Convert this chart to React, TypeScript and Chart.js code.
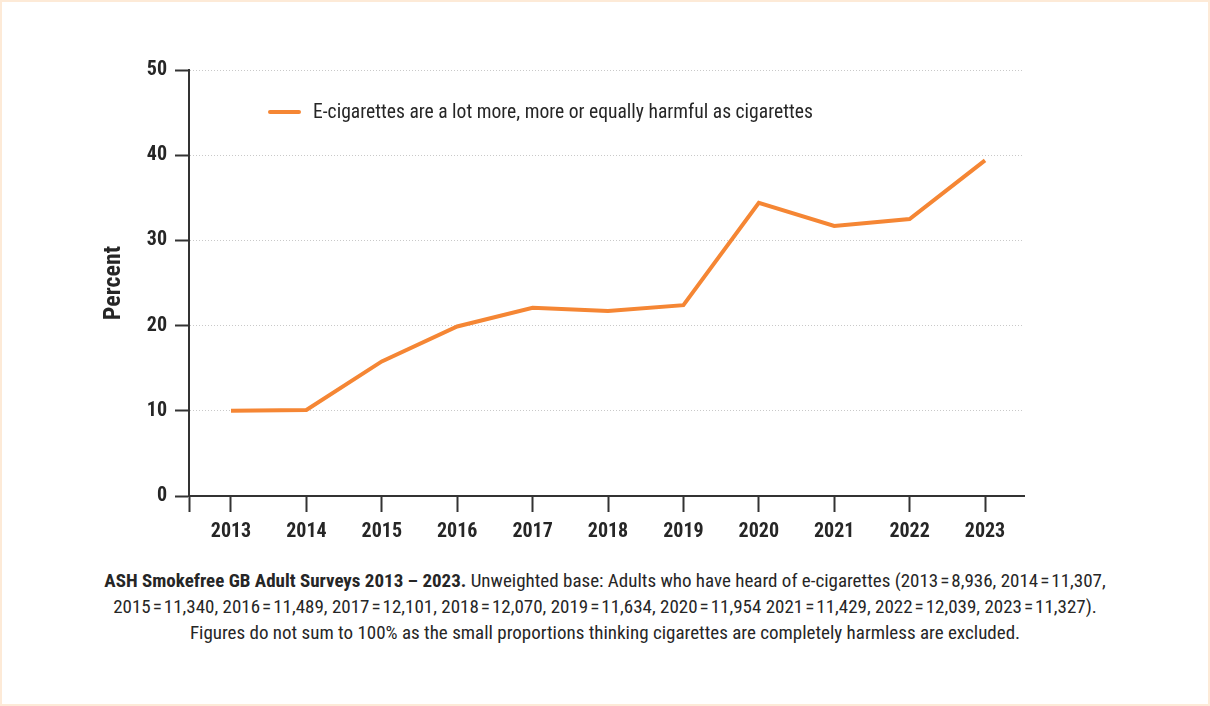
import React, { useEffect, useRef } from "react";
import { Chart, registerables } from "chart.js";

Chart.register(...registerables);

const years: number[] = [2013, 2014, 2015, 2016, 2017, 2018, 2019, 2020, 2021, 2022, 2023];
const harmfulPercent: number[] = [10.0, 10.1, 15.8, 19.9, 22.1, 21.7, 22.4, 34.4, 31.7, 32.5, 39.4];
const seriesLabel = "E-cigarettes are a lot more, more or equally harmful as cigarettes";
const yTickValues: number[] = [0, 10, 20, 30, 40, 50];
const yAxisTitle = "Percent";

const FONT = "Roboto, 'DejaVu Sans Condensed', sans-serif";
const ORANGE = "#F58634";
const DARK = "#262626";
const HS = "\u200A=\u200A";

const legendPlugin = {
  id: "insideLegend",
  afterDraw(chart: any) {
    const { ctx, chartArea } = chart;
    const ds = chart.data.datasets[0];
    const x0 = chartArea.left + 81;
    const y0 = chartArea.top + 42;
    ctx.save();
    ctx.strokeStyle = ds.borderColor;
    ctx.lineWidth = 4;
    ctx.lineCap = "round";
    ctx.beginPath();
    ctx.moveTo(x0, y0);
    ctx.lineTo(x0 + 29, y0);
    ctx.stroke();
    ctx.fillStyle = DARK;
    ctx.font = `condensed 19.6px ${FONT}`;
    try {
      (ctx as any).fontStretch = "condensed";
    } catch (e) {}
    ctx.textBaseline = "middle";
    ctx.textAlign = "left";
    ctx.fillText(ds.label, x0 + 43, y0 + 1);
    ctx.restore();
  },
};

export default function App() {
  const canvasRef = useRef<HTMLCanvasElement | null>(null);

  useEffect(() => {
    document.body.style.margin = "0";
    const canvas = canvasRef.current;
    if (!canvas) return;
    const xMin = years[0] - 0.557;
    const xMax = years[years.length - 1] + 0.517;
    const chart = new Chart(canvas, {
      type: "line",
      data: {
        datasets: [
          {
            label: seriesLabel,
            data: years.map((y, i) => ({ x: y, y: harmfulPercent[i] })),
            borderColor: ORANGE,
            backgroundColor: ORANGE,
            borderWidth: 4,
            pointRadius: 0,
            tension: 0,
            fill: false,
          },
        ],
      },
      options: {
        animation: false,
        responsive: false,
        maintainAspectRatio: false,
        layout: { padding: { left: 0, right: 186, top: 70, bottom: 0 } },
        plugins: {
          legend: { display: false },
          tooltip: { enabled: false },
        },
        scales: {
          x: {
            type: "linear",
            min: xMin,
            max: xMax,
            afterBuildTicks: (scale: any) => {
              scale.ticks = [{ value: xMin }, ...years.map((v) => ({ value: v }))];
            },
            afterFit: (scale: any) => {
              scale.height = 64;
            },
            grid: {
              drawOnChartArea: false,
              drawTicks: true,
              tickLength: 16,
              tickColor: "#333",
              tickWidth: 2,
            },
            border: { display: true, color: "#333", width: 2 },
            ticks: {
              autoSkip: false,
              maxRotation: 0,
              padding: 8,
              color: DARK,
              font: { family: FONT, size: 20, weight: "bold condensed" as any },
              callback: (v: any) => (years.includes(Number(v)) ? String(v) : ""),
            },
          },
          y: {
            min: 0,
            max: 50,
            afterBuildTicks: (scale: any) => {
              scale.ticks = yTickValues.map((v) => ({ value: v }));
            },
            afterFit: (scale: any) => {
              scale.width = 189;
            },
            grid: {
              drawOnChartArea: true,
              color: "#c9c9c9",
              lineWidth: 1,
              tickLength: 14,
              tickColor: "#333",
              tickWidth: 2,
            },
            border: { display: true, color: "#333", width: 2, dash: [1, 2] },
            ticks: {
              padding: 8,
              color: DARK,
              font: { family: FONT, size: 20, weight: "bold condensed" as any },
            },
            title: {
              display: true,
              text: yAxisTitle,
              color: DARK,
              font: { family: FONT, size: 24, weight: "bold condensed" as any },
              padding: { top: 100, bottom: 0 },
            },
          },
        },
      },
      plugins: [legendPlugin],
    });
    return () => chart.destroy();
  }, []);

  return (
    <div
      style={{
        position: "absolute",
        left: 0,
        top: 0,
        width: 1210,
        height: 706,
        boxSizing: "border-box",
        border: "2px solid #FDEAD7",
        background: "#fff",
        overflow: "hidden",
      }}
    >
      <canvas
        ref={canvasRef}
        width={1210}
        height={560}
        style={{ position: "absolute", left: -2, top: -2, width: 1210, height: 560 }}
      />
      <div
        style={{
          position: "absolute",
          left: -2,
          top: 566,
          width: 1210,
          textAlign: "center",
          fontFamily: FONT,
          fontStretch: "condensed",
          fontSize: 19,
          lineHeight: "26px",
          color: DARK,
        }}
      >
        <div>
          <b>ASH Smokefree GB Adult Surveys 2013 – 2023.</b> Unweighted base: Adults who have heard of
          e-cigarettes (2013{HS}8,936, 2014{HS}11,307,
        </div>
        <div>
          2015{HS}11,340, 2016{HS}11,489, 2017{HS}12,101, 2018{HS}12,070, 2019{HS}11,634, 2020{HS}11,954
          2021{HS}11,429, 2022{HS}12,039, 2023{HS}11,327).
        </div>
        <div>
          Figures do not sum to 100% as the small proportions thinking cigarettes are completely harmless
          are excluded.
        </div>
      </div>
    </div>
  );
}
